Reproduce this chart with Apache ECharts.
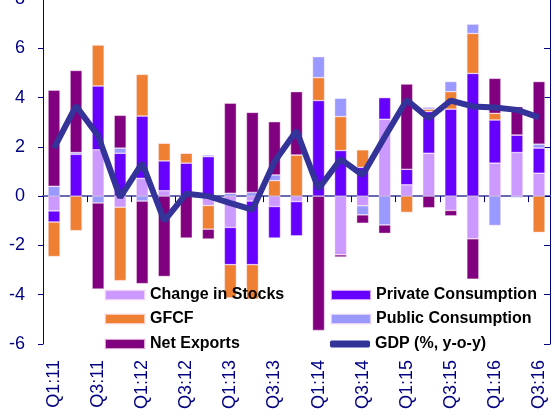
<!DOCTYPE html>
<html>
<head>
<meta charset="utf-8">
<script src="https://cdn.jsdelivr.net/npm/echarts@6/dist/echarts.min.js"></script>
<style>
  html, body { margin: 0; padding: 0; background: #fff; }
  #chart { width: 555px; height: 416px; }
</style>
</head>
<body>
<div id="chart"></div>
<script>
// quarters
var categories = ['Q1:11','Q2:11','Q3:11','Q4:11','Q1:12','Q2:12','Q3:12','Q4:12',
                  'Q1:13','Q2:13','Q3:13','Q4:13','Q1:14','Q2:14','Q3:14','Q4:14',
                  'Q1:15','Q2:15','Q3:15','Q4:15','Q1:16','Q2:16','Q3:16'];
// contributions, pp
var changeInStocks     = [-0.6, 0, 1.88, -0.45, 0.72, 0.22, 0, -0.38, -1.27, -0.2, -0.42, -0.22,
                          0, -2.38, -0.39, 3.12, 0.46, 1.74, -0.58, -1.73, 1.34, 1.77, 0.93];
var privateConsumption = [-0.45, 1.7, 2.59, 1.74, 2.53, 1.21, 1.34, 1.6, -1.51, -2.58, -1.28, -1.39,
                          3.88, 1.85, 1.17, 0.88, 0.63, 1.69, 3.53, 4.98, 1.75, 0.71, 1.02];
var gfcf               = [-1.4, -1.4, 1.66, -2.98, 1.69, 0.72, 0.4, -0.96, -1.35, -1.4, 0.63, 1.67,
                          0.93, 1.38, 0.71, 0, -0.66, 0.1, 0.71, 1.62, 0.27, 0, -1.47];
var publicConsumption  = [0.4, 0.07, -0.28, 0.21, -0.2, 0, 0, 0.07, 0.12, 0.15, 0.23, 0,
                          0.85, 0.74, -0.37, -1.17, 0, 0.08, 0.41, 0.38, -1.19, -0.06, 0.16];
var netExports         = [3.9, 3.33, -3.49, 1.33, -3.35, -3.26, -1.7, -0.4, 3.65, 3.25, 2.16, 2.57,
                          -5.45, -0.09, -0.34, -0.34, 3.46, -0.47, -0.22, -1.64, 1.42, 1.15, 2.54];
var gdp                = [1.95, 3.66, 2.45, -0.05, 1.34, -1.0, 0.1, 0.0, -0.28, -0.55, 1.4, 2.65,
                          0.3, 1.5, 0.86, 2.4, 3.9, 3.16, 3.88, 3.64, 3.6, 3.5, 3.2];
var yTicks = [-6, 8, 2];

var navy = '#000080';
var font = 'Liberation Sans, Arial, sans-serif';

function barSeries(name, data, color) {
    return {
        name: name,
        type: 'bar',
        stack: 'total',
        data: data,
        barWidth: 12,
        itemStyle: { color: color, borderColor: 'rgba(255,235,245,0.7)', borderWidth: 0.6 }
    };
}

function legendItem(name, left, top, icon, h) {
    return {
        data: [name],
        left: left,
        top: top,
        padding: 0,
        itemWidth: 40,
        itemHeight: h,
        icon: icon,
        selectedMode: false,
        textStyle: { fontFamily: font, fontSize: 16, fontWeight: 'bold', color: '#000', lineHeight: 16 }
    };
}

var chart = echarts.init(document.getElementById('chart'));
chart.setOption({
    animation: false,
    textStyle: { fontFamily: font },
    grid: { left: 43, right: 5, top: -1, bottom: 72, containLabel: false, outerBoundsMode: 'none' },
    legend: [
        legendItem('Change in Stocks', 104, 287, 'rect', 10),
        legendItem('GFCF', 104, 311, 'rect', 10),
        legendItem('Net Exports', 104, 336, 'rect', 10),
        legendItem('Private Consumption', 330, 287, 'rect', 10),
        legendItem('Public Consumption', 330, 311, 'rect', 10),
        legendItem('GDP (%, y-o-y)', 330, 336, 'roundRect', 7)
    ],
    xAxis: [
        {
            type: 'category',
            data: categories,
            position: 'bottom',
            axisLine: { show: false, onZero: false },
            axisTick: { show: false },
            axisLabel: { rotate: 90, interval: 1, margin: 16, fontSize: 18, color: navy }
        },
        {
            type: 'category',
            data: categories,
            position: 'top',
            axisLine: { onZero: true, lineStyle: { color: '#6a6ab0', width: 2 } },
            axisTick: { show: true, inside: true, interval: 1, length: 6, lineStyle: { color: navy } },
            axisLabel: { show: false }
        }
    ],
    yAxis: [
        {
            type: 'value',
            min: yTicks[0], max: yTicks[1], interval: yTicks[2],
            axisLine: { show: true, lineStyle: { color: navy } },
            axisTick: { show: true, length: 5, lineStyle: { color: navy } },
            axisLabel: { margin: 18, fontSize: 18, color: navy },
            splitLine: { show: false }
        },
        {
            type: 'value',
            position: 'right',
            min: yTicks[0], max: yTicks[1], interval: yTicks[2],
            axisLine: { show: true, lineStyle: { color: navy } },
            axisTick: { show: true, inside: true, length: 6, lineStyle: { color: navy } },
            axisLabel: { show: false },
            splitLine: { show: false }
        }
    ],
    series: [
        barSeries('Change in Stocks', changeInStocks, '#CC99FF'),
        barSeries('Private Consumption', privateConsumption, '#6600FF'),
        barSeries('GFCF', gfcf, '#EE7F33'),
        barSeries('Public Consumption', publicConsumption, '#9999FF'),
        barSeries('Net Exports', netExports, '#800080'),
        {
            name: 'GDP (%, y-o-y)',
            type: 'line',
            data: gdp,
            symbol: 'none',
            z: 5,
            itemStyle: { color: '#333399' },
            lineStyle: { color: '#333399', width: 6 }
        }
    ]
});
</script>
</body>
</html>
